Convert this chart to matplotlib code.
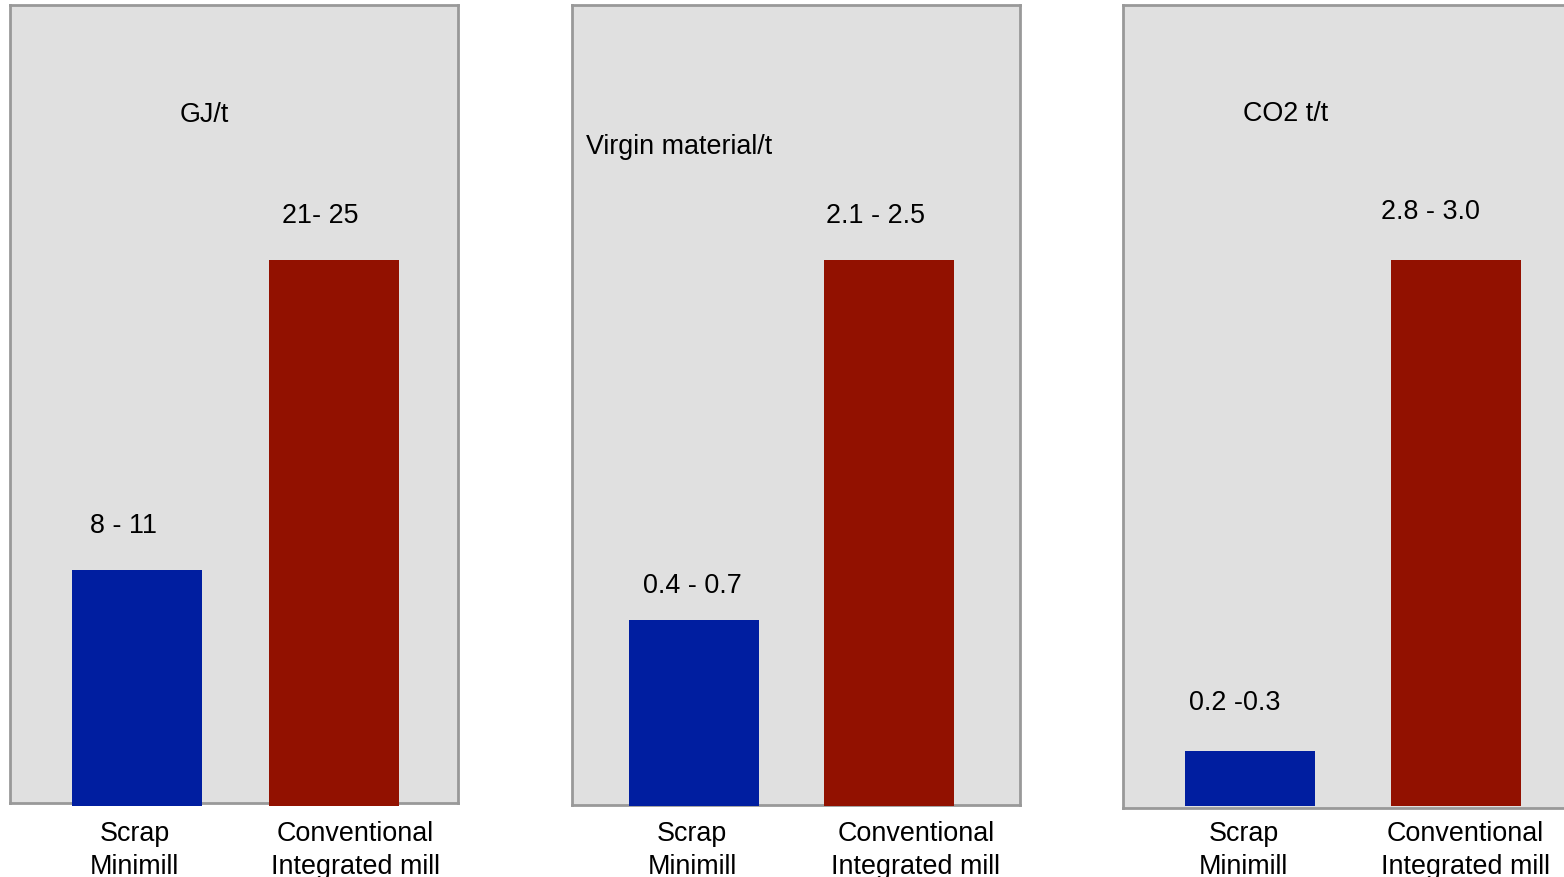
"""Steel production: scrap minimill vs conventional integrated mill, three metrics side by side."""

import matplotlib

matplotlib.use("Agg")

import matplotlib.pyplot as plt  # noqa: E402

plt.rcParams["font.family"] = ["Liberation Sans", "DejaVu Sans"]

CATEGORIES = ["Scrap\nMinimill", "Conventional\nIntegrated mill"]
UNITS = ["GJ/t", "Virgin material/t", "CO2 t/t"]
ENERGY = [10.8, 25.0]
VIRGIN = [0.85, 2.5]
CO2 = [0.3, 3.0]
RANGE_LABELS = [
    ["8 - 11", "21- 25"],
    ["0.4 - 0.7", "2.1 - 2.5"],
    ["0.2 -0.3", "2.8 - 3.0"],
]

BLUE, RED = "#001ea0", "#921100"
PANEL_BG, PANEL_EDGE = "#e0e0e0", "#999999"
FS = 19.4
W, H = 1564, 878

# panel rect in pixels (left, top, right, bottom), x-limits, bar width, unit-label spot
PANELS = [
    dict(rect=(10, 6, 458, 804), xlim=(-0.641, 1.628), bw=0.658,
         unit_xy=(0.433, 0.864), unit_ha="center", lab_dy=(45, 45), lab_dx=(-13, -14)),
    dict(rect=(572, 6, 1020, 806), xlim=(-0.626, 1.672), bw=0.667,
         unit_xy=(0.031, 0.824), unit_ha="left", lab_dy=(35, 45), lab_dx=(-2, -13)),
    dict(rect=(1123, 6, 1571, 809), xlim=(-0.613, 1.557), bw=0.63,
         unit_xy=(0.362, 0.865), unit_ha="center", lab_dy=(49, 49), lab_dx=(-15, -26)),
]
CAT_DX = [(-2, 21), (-2, 27), (-6, 9)]
BAR_TOP, BAR_BASE = 261, 807  # pixel rows of the tallest bar top and of the bar base
CAT_TOP = 821  # pixel row where the category labels start

fig = plt.figure(figsize=(W / 100, H / 100), dpi=100)
fig.patch.set_facecolor("white")

for i, values in enumerate([ENERGY, VIRGIN, CO2]):
    p = PANELS[i]
    l, t, r, b = p["rect"]
    ax = fig.add_axes([l / W, 1 - b / H, (r - l) / W, (b - t) / H])
    ax.set_facecolor(PANEL_BG)
    for s in ax.spines.values():
        s.set_color(PANEL_EDGE)
        s.set_linewidth(2)
        s.set_zorder(1)
    xs = list(range(len(CATEGORIES)))
    ax.bar(xs, values, width=p["bw"], color=[BLUE, RED], zorder=2, clip_on=False)
    ax.set_xlim(*p["xlim"])
    # data per pixel, so the tallest bar spans BAR_BASE..BAR_TOP in every panel
    k = max(values) / (BAR_BASE - BAR_TOP)
    ax.set_ylim((BAR_BASE - b) * k, max(values) + (BAR_TOP - t) * k)
    ax.set_xticks([])
    ax.set_yticks([])

    ax.text(*p["unit_xy"], UNITS[i], transform=ax.transAxes, ha=p["unit_ha"],
            va="center", fontsize=FS, color="black")

    for j, v in enumerate(values):
        ax.annotate(RANGE_LABELS[i][j], xy=(xs[j], v),
                    xytext=(p["lab_dx"][j], p["lab_dy"][j]), textcoords="offset pixels",
                    ha="center", va="center", fontsize=FS, color="black")
        ax.annotate(CATEGORIES[j], xy=(xs[j], 0),
                    xytext=(CAT_DX[i][j], BAR_BASE - CAT_TOP), textcoords="offset pixels",
                    ha="center", va="top", multialignment="center",
                    fontsize=FS, linespacing=1.35, color="black", annotation_clip=False)

fig.savefig("out.png", dpi=100)
